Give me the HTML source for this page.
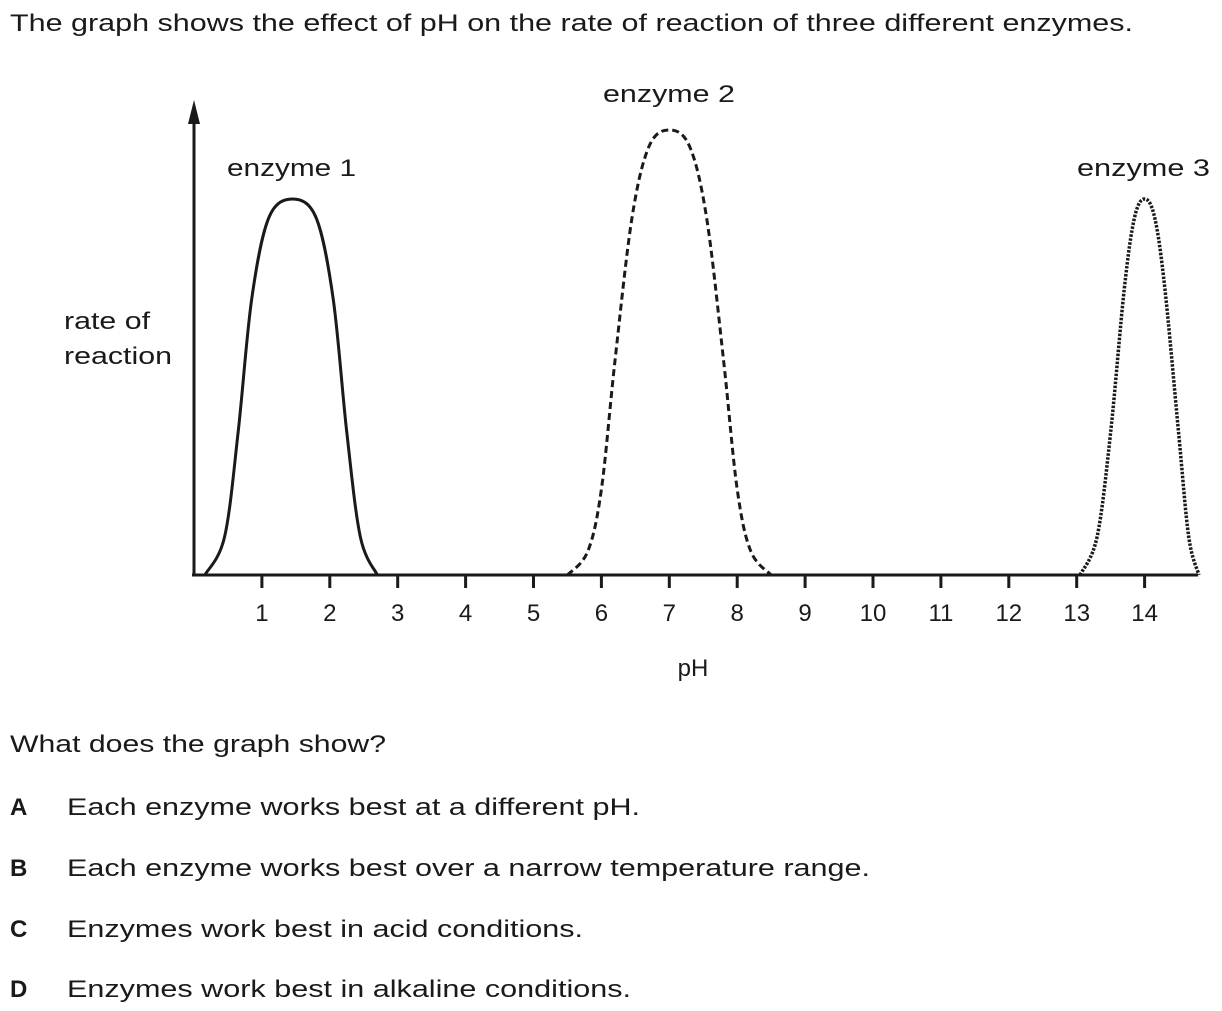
<!DOCTYPE html>
<html><head><meta charset="utf-8"><style>
html,body{margin:0;padding:0;background:#fff;}
svg{display:block;font-family:"Liberation Sans",Arial,sans-serif;}
text{fill:#1a1a1a;font-size:24px;}
</style></head><body>
<svg id="chart" width="1222" height="1011" viewBox="0 0 1222 1011" xmlns="http://www.w3.org/2000/svg">
<text x="10" y="31" textLength="1123" lengthAdjust="spacingAndGlyphs">The graph shows the effect of pH on the rate of reaction of three different enzymes.</text>
<g id="axes"></g>
<g id="curves"></g>
<text x="64" y="329" textLength="86" lengthAdjust="spacingAndGlyphs">rate of</text>
<text x="64" y="364" textLength="108" lengthAdjust="spacingAndGlyphs">reaction</text>
<text x="693" y="676" text-anchor="middle">pH</text>
<text x="227" y="176" textLength="129" lengthAdjust="spacingAndGlyphs">enzyme 1</text>
<text x="603" y="102" textLength="132" lengthAdjust="spacingAndGlyphs">enzyme 2</text>
<text x="1077" y="176" textLength="133" lengthAdjust="spacingAndGlyphs">enzyme 3</text>
<text x="10" y="752" textLength="376" lengthAdjust="spacingAndGlyphs">What does the graph show?</text>
<g><text x="10" y="815" font-weight="bold">A</text><text x="67" y="815" textLength="573" lengthAdjust="spacingAndGlyphs">Each enzyme works best at a different pH.</text></g>
<g><text x="10" y="876" font-weight="bold">B</text><text x="67" y="876" textLength="803" lengthAdjust="spacingAndGlyphs">Each enzyme works best over a narrow temperature range.</text></g>
<g><text x="10" y="937" font-weight="bold">C</text><text x="67" y="937" textLength="516" lengthAdjust="spacingAndGlyphs">Enzymes work best in acid conditions.</text></g>
<g><text x="10" y="997" font-weight="bold">D</text><text x="67" y="997" textLength="564" lengthAdjust="spacingAndGlyphs">Enzymes work best in alkaline conditions.</text></g>
</svg>
<script>
const tickLabels = ["1","2","3","4","5","6","7","8","9","10","11","12","13","14"];
const enzyme1PH = [0.16,0.45,0.65,0.85,1.1,1.45,1.8,2.05,2.25,2.45,2.7];
const enzyme1Rate = [0,8,30,58,75,79,75,58,30,8,0];
const enzyme2PH = [5.5,5.8,6.0,6.2,6.45,6.7,7.0,7.3,7.55,7.8,8.0,8.2,8.5];
const enzyme2Rate = [0,5,18,45,75,90,93.5,90,75,45,18,5,0];
const enzyme3PH = [13.05,13.3,13.5,13.7,13.85,14.0,14.15,14.3,14.5,14.65,14.8];
const enzyme3Rate = [0,8,30,60,75,79,75,60,30,8,0];

const NS="http://www.w3.org/2000/svg";
const xScale = v => 194 + v*67.9;
const yScale = v => 575 - v*4.76;
function mk(tag, attrs, parent){const e=document.createElementNS(NS,tag);for(const k in attrs)e.setAttribute(k,attrs[k]);parent.appendChild(e);return e;}
const axes=document.getElementById('axes');
const xl=mk('line',{x1:192,y1:575,x2:1198,y2:575,stroke:'#1a1a1a','stroke-width':3},axes);


const yl=mk('line',{x1:194,y1:576,x2:194,y2:115,stroke:'#1a1a1a','stroke-width':3},axes);


const ar=mk('polygon',{points:'194,100 188,124 200,124',fill:'#1a1a1a'},axes);


tickLabels.forEach((t,i)=>{
  const x=xScale(Number(t));
  const tk=mk('line',{x1:x,y1:575,x2:x,y2:588,stroke:'#1a1a1a','stroke-width':3},axes);
  
  
  const tl=mk('text',{x:x,y:621,'text-anchor':'middle'},axes);
  tl.textContent=t;
  
  
});
function pathFrom(xs,ys){
  const p=xs.map((v,i)=>[xScale(v),yScale(ys[i])]);
  let d='M'+p[0][0]+','+p[0][1];
  for(let i=0;i<p.length-1;i++){
    const p0=p[Math.max(0,i-1)],p1=p[i],p2=p[i+1],p3=p[Math.min(p.length-1,i+2)];
    const c1=[p1[0]+(p2[0]-p0[0])/6,p1[1]+(p2[1]-p0[1])/6];
    const c2=[p2[0]-(p3[0]-p1[0])/6,p2[1]-(p3[1]-p1[1])/6];
    d+=' C'+c1+' '+c2+' '+p2;
  }
  return d;
}
const cg=document.getElementById('curves');
const c1=mk('path',{d:pathFrom(enzyme1PH,enzyme1Rate),fill:'none',stroke:'#1a1a1a','stroke-width':3},cg);


const c2=mk('path',{d:pathFrom(enzyme2PH,enzyme2Rate),fill:'none',stroke:'#1a1a1a','stroke-width':3,'stroke-dasharray':'7,4'},cg);


const c3=mk('path',{d:pathFrom(enzyme3PH,enzyme3Rate),fill:'none',stroke:'#1a1a1a','stroke-width':3.5,'stroke-dasharray':'2.5,1.5'},cg);


</script>
</body></html>
